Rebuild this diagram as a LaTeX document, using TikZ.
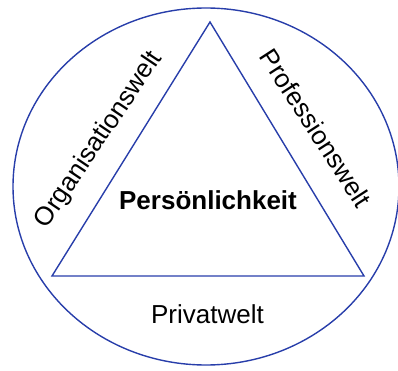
\documentclass[tikz,border=0pt]{standalone}
\usepackage{fontspec}
\setmainfont{Liberation Sans}
\definecolor{ringblue}{RGB}{40,62,170}
\begin{document}
\begin{tikzpicture}[x=1pt,y=-1pt,
    rand/.style={draw=ringblue,line width=1.4pt},
    welt/.style={font=\fontsize{26}{30}\selectfont,inner sep=0pt},
    kern/.style={font=\fontsize{26}{30}\selectfont\bfseries,inner sep=0pt}]
  \useasboundingbox (0,0) rectangle (398,371);
  % Outer ring around everything
  \draw[rand] (206,186.5) ellipse [x radius=193, y radius=178.5];
  % Triangle in the middle
  \draw[rand,line join=miter] (210,22) -- (52,276) -- (364,276) -- cycle;
  % Labels of the three sides
  \node[welt,rotate=56] (orga) at (99,140) {Organisationswelt};
  \node[welt,rotate=-57] (prof) at (316,128) {Professionswelt};
  \node[welt,anchor=base] (privat) at (207.5,323) {Privatwelt};
  % Centre
  \node[kern,anchor=base] (person) at (208,209) {Persönlichkeit};
\end{tikzpicture}
\end{document}
